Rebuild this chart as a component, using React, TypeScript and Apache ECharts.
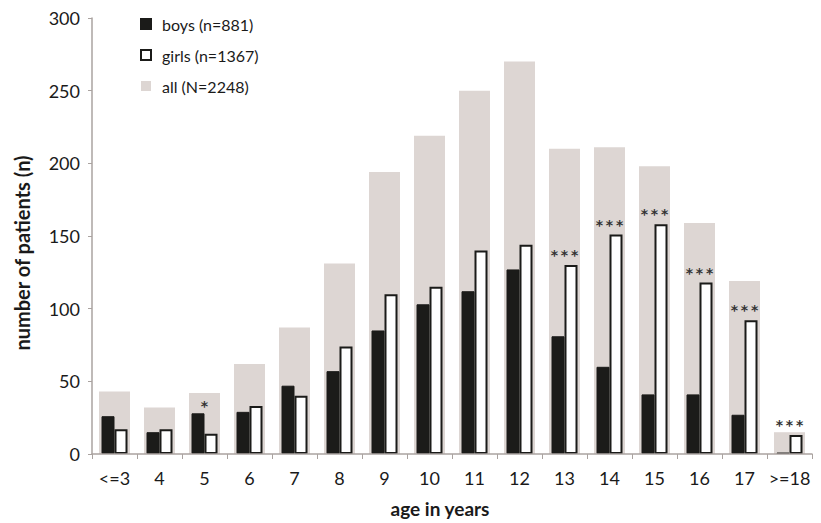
import React, { useEffect, useRef } from "react";
import * as echarts from "echarts";

const categories = ["<=3", "4", "5", "6", "7", "8", "9", "10", "11", "12", "13", "14", "15", "16", "17", ">=18"];
const boys = [26, 15, 28, 29, 47, 57, 85, 103, 112, 127, 81, 60, 41, 41, 27, 1];
const girls = [17, 17, 14, 33, 40, 74, 110, 115, 140, 144, 130, 151, 158, 118, 92, 13];
const all = [43, 32, 42, 62, 87, 131, 194, 219, 250, 270, 210, 211, 198, 159, 119, 15];
const significance = ["", "", "*", "", "", "", "", "", "", "", "***", "***", "***", "***", "***", "***"];
const seriesNames = ["boys (n=881)", "girls (n=1367)", "all (N=2248)"];

const FONT = "Lato";

function starLabel(text: string, offsetX: number) {
  return {
    show: true,
    position: "top",
    distance: text.length === 1 ? 0 : 3,
    offset: [offsetX, 0],
    formatter: text.split("").join("\u2009"),
    fontSize: 14,
    fontWeight: "bold",
    fontFamily: "DejaVu Sans",
    color: "#333",
  };
}

export default function App() {
  const ref = useRef<HTMLDivElement>(null);
  useEffect(() => {
    document.body.style.margin = "0";
    if (!ref.current) return;
    const chart = echarts.init(ref.current, undefined, { renderer: "svg" });
    const boysData = boys.map((v, i) => {
      const s = significance[i];
      if (s && boys[i] > girls[i]) return { value: v, label: starLabel(s, 6.5) };
      return { value: v };
    });
    const girlsData = girls.map((v, i) => {
      const s = significance[i];
      if (s && boys[i] <= girls[i]) return { value: v, label: starLabel(s, -6.5) };
      return { value: v };
    });
    chart.setOption({
      animation: false,
      textStyle: { fontFamily: FONT },
      grid: { left: 92, right: 9, top: 18, bottom: 69 },
      legend: {
        orient: "vertical",
        left: 135,
        top: 11,
        itemWidth: 10,
        itemHeight: 10,
        itemGap: 15,
        icon: "rect",
        data: seriesNames,
        textStyle: { fontSize: 16, color: "#1a1a1a", fontFamily: FONT, padding: [0, 0, 0, 6] },
      },
      xAxis: [
        {
          type: "category",
          data: categories,
          boundaryGap: true,
          axisLine: { show: true, lineStyle: { color: "#aaa3a0", width: 1.5 } },
          axisTick: { show: true, length: 5, interval: 0, lineStyle: { color: "#aaa3a0" } },
          axisLabel: { fontSize: 18, color: "#1a1a1a", margin: 15, interval: 0, fontFamily: FONT },
          name: "age in years",
          nameLocation: "middle",
          nameGap: 45,
          nameTextStyle: {
            fontSize: 19,
            fontWeight: "bold",
            color: "#1a1a1a",
            fontFamily: FONT,
            padding: [0, 24, 0, 0],
          },
          z: 5,
        },
        {
          type: "category",
          data: categories,
          show: false,
          position: "bottom",
        },
      ],
      yAxis: {
        type: "value",
        min: 0,
        max: 300,
        interval: 50,
        axisLine: { show: true, lineStyle: { color: "#aaa3a0", width: 1.5 } },
        axisTick: { show: true, length: 4, lineStyle: { color: "#aaa3a0" } },
        axisLabel: { fontSize: 18, color: "#1a1a1a", margin: 12, fontFamily: FONT },
        splitLine: { show: false },
        name: "number of patients (n)",
        nameLocation: "middle",
        nameGap: 60,
        nameTextStyle: {
          fontSize: 20,
          fontWeight: "bold",
          color: "#1a1a1a",
          fontFamily: FONT,
          padding: [0, 34, 0, 0],
        },
      },
      series: [
        {
          name: seriesNames[2],
          type: "bar",
          xAxisIndex: 1,
          data: all,
          barWidth: 31,
          itemStyle: { color: "#ddd6d3" },
          z: 1,
        },
        {
          name: seriesNames[0],
          type: "bar",
          xAxisIndex: 0,
          data: boysData,
          barWidth: 13,
          barGap: "0%",
          itemStyle: { color: "#1b1b19", borderColor: "#1b1b19", borderWidth: 1 },
          z: 3,
        },
        {
          name: seriesNames[1],
          type: "bar",
          xAxisIndex: 0,
          data: girlsData,
          barWidth: 13,
          barGap: "0%",
          itemStyle: { color: "#ffffff", borderColor: "#1b1b19", borderWidth: 2 },
          z: 3,
        },
      ],
    });
    return () => chart.dispose();
  }, []);
  return <div ref={ref} style={{ width: 821, height: 523 }} />;
}
